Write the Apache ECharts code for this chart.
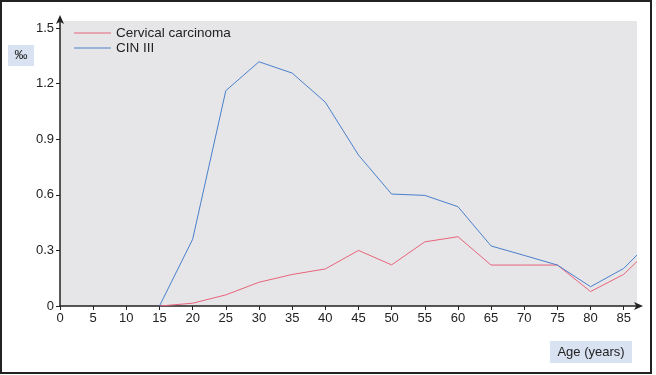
<!DOCTYPE html>
<html><head><meta charset="utf-8">
<script src="https://cdn.jsdelivr.net/npm/echarts@6/dist/echarts.min.js"></script>
<style>html,body{margin:0;padding:0;background:#fff}#c{width:656px;height:375px}</style>
</head><body><div id="c"></div>
<script>
const ages = [15, 20, 25, 30, 35, 40, 45, 50, 55, 60, 65, 70, 75, 80, 85, 87];
const cervicalCarcinoma = [0, 0.015, 0.06, 0.128, 0.17, 0.2, 0.3, 0.222, 0.346, 0.374, 0.221, 0.221, 0.221, 0.078, 0.171, 0.24];
const cin3 = [0, 0.36, 1.162, 1.318, 1.257, 1.1, 0.815, 0.604, 0.597, 0.536, 0.324, 0.273, 0.221, 0.104, 0.203, 0.275];
const seriesNames = ['Cervical carcinoma', 'CIN III'];
const yUnit = '‰';
const xTitle = 'Age (years)';

const FONT = 'Liberation Sans';
const chart = echarts.init(document.getElementById('c'), null, {renderer: 'canvas'});
const pair = (xs, ys) => xs.map((x, i) => [x, ys[i]]);
chart.setOption({
  animation: false,
  textStyle: {fontFamily: FONT},
  grid: {left: 60, right: 19, top: 21, bottom: 69, show: true, backgroundColor: '#e6e6e8', borderWidth: 0},
  legend: {
    orient: 'vertical', left: 74, top: 26, padding: 0, itemWidth: 37, itemHeight: 1, itemGap: 1,
    icon: 'rect', textStyle: {fontFamily: FONT, fontSize: 13.5, color: '#222'},
    data: seriesNames
  },
  xAxis: {
    type: 'value', min: 0, max: 87, interval: 5,
    axisLine: {lineStyle: {color: '#222', width: 1.5}, symbol: ['none', 'arrow'], symbolSize: [6, 9], symbolOffset: [0, 6]},
    axisTick: {length: 4, lineStyle: {color: '#222'}},
    axisLabel: {color: '#222', fontSize: 13, margin: 6, showMaxLabel: false},
    splitLine: {show: false}
  },
  yAxis: {
    type: 'value', min: 0, max: 1.538, interval: 0.3,
    axisLine: {show: true, lineStyle: {color: '#222', width: 1.5}, symbol: ['none', 'arrow'], symbolSize: [6, 9], symbolOffset: [0, 6]},
    axisTick: {show: true, length: 4, lineStyle: {color: '#222'}},
    axisLabel: {color: '#222', fontSize: 13, margin: 6, showMaxLabel: false,
      formatter: v => (v === 0 ? '0' : v.toFixed(1))},
    splitLine: {show: false}
  },
  series: [
    {name: seriesNames[0], type: 'line', data: pair(ages, cervicalCarcinoma), showSymbol: false,
     lineStyle: {color: '#e8637b', width: 1}, itemStyle: {color: '#e8637b'}},
    {name: seriesNames[1], type: 'line', data: pair(ages, cin3), showSymbol: false,
     lineStyle: {color: '#4a7fcb', width: 1}, itemStyle: {color: '#4a7fcb'}}
  ],
  graphic: [
    {type: 'rect', shape: {x: 1, y: 1, width: 650, height: 372}, style: {fill: 'none', stroke: '#222', lineWidth: 2}, silent: true},
    {type: 'rect', shape: {x: 8, y: 45, width: 26, height: 21}, style: {fill: '#d9e2f1'}},
    {type: 'text', x: 21, y: 55.5, style: {text: yUnit, fill: '#222', font: '13px ' + FONT, align: 'center', verticalAlign: 'middle'}},
    {type: 'rect', shape: {x: 550, y: 341, width: 82, height: 22}, style: {fill: '#d9e2f1'}},
    {type: 'text', x: 591, y: 352, style: {text: xTitle, fill: '#222', font: '13px ' + FONT, align: 'center', verticalAlign: 'middle'}}
  ]
});
</script></body></html>
